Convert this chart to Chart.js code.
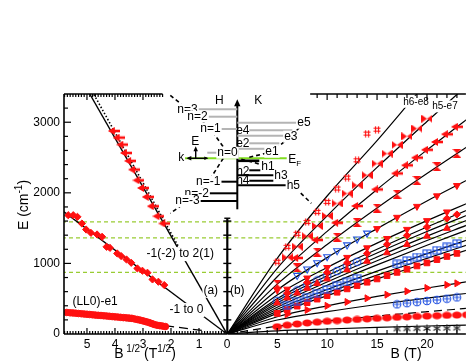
<!DOCTYPE html>
<html lang="en">
<head>
<meta charset="UTF-8" />
<title>Landau level transitions</title>
<style>
  body{margin:0;background:#fff}
  #wrap{position:relative;width:471px;height:364px;overflow:hidden;background:#fff}
  canvas{position:absolute}
  #cLeft{left:0;top:0}
  #cRight{left:222px;top:0}
  #cInset{left:160px;top:92px}
</style>
<script src="https://cdn.jsdelivr.net/npm/chart.js"></script>
</head>
<body>
<div id="wrap">
  <canvas id="cLeft" width="232" height="364"></canvas>
  <canvas id="cRight" width="249" height="364"></canvas>
  <canvas id="cInset" width="160" height="124"></canvas>
</div>
<script>
// ---------- data ----------
const yMax = 3400;
const yTicks = [0, 1000, 2000, 3000];
const leftXTicks = [0, 1, 2, 3, 4, 5];
const rightXTicks = [5, 10, 15, 20];
const greenLevels = [1588, 1362, 873];

// left panel, x = B^1/2 (T^1/2)
const upX = [4.04, 3.87, 3.74, 3.61, 3.46, 3.32, 3.16, 3.0, 2.83, 2.65, 2.45, 2.24];
const upE = [2876, 2782, 2683, 2565, 2452, 2329, 2178, 2069, 1942, 1810, 1669, 1566];
const midX = [5.67, 5.49, 5.34, 5.18, 5.03, 4.86, 4.64, 4.46, 4.30, 4.18, 3.92, 3.78, 3.59, 3.42, 3.20, 3.02, 2.84, 2.66, 2.45, 2.24];
const midE = [1683, 1683, 1660, 1565, 1480, 1433, 1410, 1377, 1235, 1220, 1141, 1104, 1056, 1009, 929, 896, 868, 773, 740, 693];
const lowX = [5.72, 5.6, 5.5, 5.4, 5.3, 5.2, 5.1, 5.0, 4.9, 4.8, 4.7, 4.6, 4.5, 4.4, 4.3, 4.2, 4.1, 4.0, 3.9, 3.8, 3.7, 3.6, 3.5, 3.4, 3.3, 3.2, 3.1, 3.0, 2.9, 2.8, 2.7, 2.6, 2.5, 2.4, 2.3, 2.2];
const lowE = [305, 300, 298, 295, 290, 287, 283, 280, 276, 272, 268, 265, 262, 258, 255, 251, 247, 243, 240, 236, 232, 229, 226, 222, 213, 205, 196, 186, 175, 164, 150, 135, 125, 118, 112, 105];
const fitUpX = [0, 4.9], fitUpE = [0, 3400];
const dotUpX = [1.69, 4.76], dotUpE = [1207, 3400];
const fitMidX = [0, 5.82], fitMidE = [0, 1730];
const dashLowX = [0.9, 5.82], dashLowE = [50, 310];

// right panel, x = B (T)
const fanB = [0, 5, 10, 15, 20, 24];
const fanLines = [
  [0, 1071, 1955, 2740, 3566, 4180],
  [0, 929, 1673, 2360, 3010, 3520],
  [0, 811, 1454, 2048, 2607, 3041],
  [0, 707, 1268, 1785, 2273, 2650],
  [0, 622, 1082, 1493, 1885, 2180],
  [0, 552, 942, 1287, 1606, 1850],
  [0, 500, 870, 1200, 1515, 1754],
  [0, 470, 826, 1148, 1452, 1683],
  [0, 440, 781, 1091, 1386, 1612],
  [0, 410, 736, 1037, 1324, 1542],
  [0, 380, 691, 980, 1258, 1471],
  [0, 350, 630, 891, 1138, 1330],
  [0, 320, 586, 835, 1072, 1259],
  [0, 292, 543, 780, 1007, 1188],
  [0, 245, 399, 532, 652, 740],
  [0, 198, 317, 418, 509, 575],
  [0, 45, 71, 93, 113, 127]
];
const fanDashE = [0, 110, 186, 254, 316, 363];

const hashB = [5, 6, 7, 8, 9, 10, 11, 12, 13, 14, 15];
const hashE = [1023, 1235, 1420, 1588, 1730, 1871, 2061, 2216, 2461, 2839, 2895];
const bowB = [6, 7, 8, 9, 10, 11, 12, 13, 14, 15, 16, 17, 18, 19, 20];
const bowE = [1085, 1237, 1385, 1530, 1673, 1849, 1990, 2107, 2249, 2414, 2556, 2680, 2800, 2910, 3050];
const ltriB = [7, 9, 11, 13, 15, 17, 18, 19, 20, 21, 22, 23];
const ltriE = [1077, 1332, 1576, 1814, 2048, 2275, 2390, 2498, 2610, 2720, 2830, 2936];
const hglB = [5, 7, 9, 11, 13, 15, 17, 19, 21, 23];
const hglE = [707, 939, 1161, 1374, 1582, 1785, 1983, 2177, 2371, 2559];
const dtriB = [5, 6, 8, 10, 12, 14, 15, 16, 17, 18, 19, 20, 21, 22, 23];
const dtriE = [622, 635, 793, 942, 1085, 1221, 1493, 1353, 1653, 1482, 1808, 1606, 1957, 1729, 2103];
const diaB = [6, 8, 10, 12, 14, 16, 18, 20, 22, 23];
const diaE = [579, 729, 870, 1007, 1141, 1270, 1396, 1515, 1636, 1693];
const utriB = [5, 6, 7, 8, 9, 10, 12, 14, 16, 18, 20, 22];
const utriE = [440, 512, 581, 649, 715, 781, 908, 1031, 1151, 1269, 1386, 1497];
const bTriB = [7, 8, 9, 10, 11, 12, 13, 14];
const bTriE = [830, 920, 1010, 1095, 1180, 1262, 1345, 1429];
const bDotB = [5, 6, 7, 8, 9, 10, 11, 12, 13];
const bDotE = [470, 545, 618, 689, 758, 826, 892, 957, 1022];
const bBoxB = [6, 7, 8, 9, 10, 11, 12, 13, 17, 18, 19, 20, 21, 22, 23];
const bBoxE = [409, 466, 522, 577, 630, 685, 737, 789, 992, 1041, 1090, 1138, 1187, 1234, 1281];
const sqB = [5, 6, 7, 8, 9, 10, 11, 12, 13, 14, 15, 16, 17, 18, 19, 20, 21, 22, 23];
const sqE = [292, 344, 395, 444, 494, 543, 591, 639, 686, 733, 780, 826, 873, 917, 964, 1007, 1054, 1098, 1142];
const rtriB = [6, 8, 10, 12, 14, 16, 18, 20, 22, 23];
const rtriE = [279, 341, 399, 454, 506, 557, 605, 652, 696, 718];
const bPlusB = [17, 18, 19, 20, 21, 22, 23];
const bPlusE = [420, 437, 452, 468, 483, 500, 518];
const ellB = [5, 6, 7, 8, 9, 10, 11, 12, 13, 14, 15, 16, 17, 18, 19, 20, 21, 22, 23, 24];
const ellE = [103, 125, 142, 156, 168, 180, 190, 198, 206, 214, 222, 229, 236, 242, 248, 254, 259, 264, 268, 272];
const starB = [17, 18, 19, 20, 21, 22, 23];
const starE = [72, 74, 76, 78, 80, 82, 84];

const leftNotes = [
  {t: '-1(-2) to 2(1)', x: 1.67, y: 1132, size: 12},
  {t: '-1 to 0', x: 1.45, y: 339, size: 12},
  {t: '(LL0)-e1', x: 4.71, y: 457, size: 12},
  {t: '(a)', x: 0.58, y: 612, size: 12}
];
const rightNotes = [
  {t: '(b)', x: 1.0, y: 608, size: 12},
  {t: 'h6-e8', x: 18.9, y: 3290, size: 10},
  {t: 'h5-e7', x: 21.8, y: 3225, size: 10}
];

// inset level scheme (x: 0 on the axis, y: 0 at E_F)
const nNames = ['n=3', 'n=2', 'n=1', 'n=0', 'n=-1', 'n=-2', 'n=-3'];
const nY = [49, 41.6, 29.3, 5.6, -23.4, -35, -42.7];
const nX0 = [-39, -29, -18, -30, -19, -29, -39];
const nX1 = [0, 0, 0, -20, 0, 0, 0];
const nLabX = [-49.8, -39.8, -26.8, -9.8, -29, -40.6, -49.8];
const eNames = ['e5', 'e4', 'e3', 'e2', 'e1'];
const eY = [35.6, 28, 22.5, 15, 9.5];
const eX0 = [0, 12, 0, 12, 0];
const eX1 = [59, 55, 47, 42, 28];
const eLabX = [66.7, 5.5, 53.5, 5.5, 34.7];
const eLabY = [35.6, 27.6, 21.6, 14.3, 6.6];
const hNames = ['h1', 'h2', 'h3', 'h4', 'h5'];
const hY = [-2.5, -12, -17, -22.4, -27];
const hX0 = [0, 12, 0, 12, 0];
const hX1 = [22, 38, 38, 52, 50];
const hLabX = [30.7, 5.5, 43.7, 5.5, 56];
const hLabY = [-8, -13.4, -17.7, -22.4, -27.7];
const dashUL = {x: [-67, -49.8, -39.8, -26.8, -9.8], y: [63, 49, 41.6, 29.3, 5.6]};
const dashLL = {x: [-14, -29, -40.6, -49.8, -67], y: [0, -23.4, -35, -42.7, -55]};
const dashUR = {x: [12, 34.7, 53.5, 66.7], y: [1, 6.6, 21.6, 35.6]};
const dashLR = {x: [4, 30.7, 43.7, 56, 74], y: [-1, -8, -17.7, -27.7, -45]};

// ---------- styling helpers ----------
const ink = '#000', red = '#ff1010', blue = '#2050e0', green = '#99cc33', gray = '#b4b4b4';
const FONT = '"Liberation Sans", Arial, Helvetica, sans-serif';
Chart.defaults.font.family = FONT;
Chart.defaults.font.size = 12;
Chart.defaults.color = ink;

function pts(xs, ys) { return xs.map((x, i) => ({x, y: ys[i]})); }
function curve(xs, ys, extra) {
  return Object.assign({data: pts(xs, ys), showLine: true, pointRadius: 0, borderColor: ink,
    borderWidth: 1.2, fill: false, order: 2}, extra);
}
function markers(xs, ys, style, extra) {
  return Object.assign({data: pts(xs, ys), showLine: false, pointStyle: style, pointRadius: 4,
    backgroundColor: red, borderColor: red, borderWidth: 1, order: 0}, extra);
}
function mk(w, h, draw) {
  const c = document.createElement('canvas'); c.width = w; c.height = h;
  draw(c.getContext('2d'), w, h); return c;
}
const mBow = mk(11, 8, (g, w, h) => { g.fillStyle = red; g.beginPath();
  g.moveTo(0, 0); g.lineTo(w / 2, h / 2); g.lineTo(0, h); g.closePath();
  g.moveTo(w, 0); g.lineTo(w / 2, h / 2); g.lineTo(w, h); g.closePath(); g.fill(); });
const mHgl = mk(9, 9, (g, w, h) => { g.fillStyle = red; g.beginPath();
  g.moveTo(0, 0); g.lineTo(w, 0); g.lineTo(w / 2, h / 2); g.closePath();
  g.moveTo(0, h); g.lineTo(w, h); g.lineTo(w / 2, h / 2); g.closePath(); g.fill(); });
const mArrowL = mk(12, 8, (g, w, h) => { g.fillStyle = red; g.beginPath();
  g.moveTo(0, h / 2); g.lineTo(7, 0); g.lineTo(7, h); g.closePath(); g.fill();
  g.fillRect(7, h / 2 - 1.3, w - 7, 2.6); });
const mHash = mk(8, 8, (g) => { g.strokeStyle = red; g.lineWidth = 1.2;
  [2.5, 5.5].forEach(p => { g.beginPath(); g.moveTo(p, 0.5); g.lineTo(p, 7.5);
    g.moveTo(0.5, p); g.lineTo(7.5, p); g.stroke(); }); });
const mOplus = mk(10, 10, (g) => { g.strokeStyle = blue; g.lineWidth = 1.1; g.beginPath();
  g.arc(5, 5, 3.8, 0, 2 * Math.PI); g.stroke(); g.beginPath();
  g.moveTo(5, 2); g.lineTo(5, 8); g.moveTo(2, 5); g.lineTo(8, 5); g.stroke(); });
const mBoxplus = mk(10, 9, (g) => { g.strokeStyle = blue; g.lineWidth = 1.1;
  g.strokeRect(1, 1, 8, 7); g.beginPath(); g.moveTo(5, 1); g.lineTo(5, 8);
  g.moveTo(1, 4.5); g.lineTo(9, 4.5); g.stroke(); });
const mOdot = mk(10, 10, (g) => { g.strokeStyle = blue; g.fillStyle = blue; g.lineWidth = 1.1;
  g.beginPath(); g.arc(5, 5, 3.8, 0, 2 * Math.PI); g.stroke();
  g.beginPath(); g.arc(5, 5, 1.2, 0, 2 * Math.PI); g.fill(); });
const mEll = mk(11, 8, (g) => { g.fillStyle = red; g.beginPath();
  g.ellipse(5.5, 4, 5, 3.5, 0, 0, 2 * Math.PI); g.fill(); });
const mAst = mk(9, 9, (g) => { g.strokeStyle = '#222'; g.lineWidth = 1.1; g.beginPath();
  g.moveTo(4.5, 0.5); g.lineTo(4.5, 8.5); g.moveTo(1, 2.5); g.lineTo(8, 6.5);
  g.moveTo(1, 6.5); g.lineTo(8, 2.5); g.stroke(); });

function seg(ctx, x1, y1, x2, y2) { ctx.beginPath(); ctx.moveTo(x1, y1); ctx.lineTo(x2, y2); ctx.stroke(); }
function rich(ctx, parts, x, y, center) {
  let w = 0;
  parts.forEach(p => { ctx.font = (p.sup ? 10 : 14) + 'px ' + FONT; w += ctx.measureText(p.t).width; });
  let cx = center ? x - w / 2 : x;
  parts.forEach(p => { ctx.font = (p.sup ? 10 : 14) + 'px ' + FONT;
    ctx.fillText(p.t, cx, p.sup ? y - 6 : y); cx += ctx.measureText(p.t).width; });
}
function drawNotes(chart, notes) {
  const {ctx, scales: {x, y}} = chart;
  ctx.save(); ctx.textAlign = 'center'; ctx.textBaseline = 'middle';
  notes.forEach(n => {
    ctx.font = n.size + 'px ' + FONT;
    const px = x.getPixelForValue(n.x), py = y.getPixelForValue(n.y);
    const w = ctx.measureText(n.t).width;
    ctx.fillStyle = '#fff'; ctx.fillRect(px - w / 2 - 1, py - n.size / 2 - 1, w + 2, n.size + 2);
    ctx.fillStyle = ink; ctx.fillText(n.t, px, py);
  });
  ctx.restore();
}
const fixTicks = arr => s => { s.ticks = arr.map(v => ({value: v})); };
const plain = v => String(v);

// ---------- left panel ----------
const leftTopEnd = 2.3;
const leftFrame = {
  id: 'leftFrame',
  afterDatasetsDraw(chart) { drawNotes(chart, leftNotes); },
  afterDraw(chart) {
    const {ctx, chartArea: a, scales: {x, y}} = chart;
    ctx.save(); ctx.strokeStyle = ink; ctx.lineWidth = 1.6;
    seg(ctx, a.left, a.top, a.left, a.bottom);
    seg(ctx, a.left, a.bottom, a.right, a.bottom);
    seg(ctx, a.left, a.top, x.getPixelForValue(leftTopEnd), a.top);
    ctx.lineWidth = 1.2;
    for (let v = 200; v < yMax; v += 200) {
      const py = y.getPixelForValue(v);
      seg(ctx, a.left, py, a.left + (v % 1000 ? 4 : 7), py);
    }
    for (let i = 1; i <= 58; i++) {
      const v = i / 10, px = x.getPixelForValue(v), L = i % 10 ? 3 : 6;
      seg(ctx, px, a.bottom, px, a.bottom - L);
      if (v >= leftTopEnd) seg(ctx, px, a.top, px, a.top + L);
    }
    ctx.fillStyle = ink; ctx.textBaseline = 'alphabetic';
    ctx.save(); ctx.translate(28, 205); ctx.rotate(-Math.PI / 2);
    rich(ctx, [{t: 'E (cm'}, {t: '-1', sup: true}, {t: ')'}], 0, 0, true);
    ctx.restore();
    rich(ctx, [{t: 'B'}, {t: ' 1/2', sup: true}, {t: ' (T'}, {t: '1/2', sup: true}, {t: ')'}], 145, 358, true);
    ctx.restore();
  }
};

const leftSets = [
  markers(upX, upE, mArrowL),
  markers(midX, midE, 'rectRot', {pointRadius: 3.6}),
  markers(lowX, lowE, 'circle', {pointRadius: 3.3}),
  curve(fitUpX, fitUpE, {borderWidth: 1.4}),
  curve(dotUpX, dotUpE, {borderDash: [1.5, 2], borderWidth: 1.6}),
  curve(fitMidX, fitMidE, {borderWidth: 1.3}),
  curve(dashLowX, dashLowE, {borderDash: [9, 5], borderWidth: 1.3}),
  ...greenLevels.map(g => curve([0, 5.82], [g, g], {borderColor: green, borderDash: [4, 3], borderWidth: 1.4, order: 3}))
];

new Chart(document.getElementById('cLeft'), {
  type: 'scatter',
  data: {datasets: leftSets},
  options: {
    responsive: false, animation: false,
    layout: {padding: {top: 94, right: 4.7, left: 0, bottom: 0}},
    plugins: {legend: {display: false}, tooltip: {enabled: false}},
    scales: {
      x: {type: 'linear', reverse: true, min: 0, max: 5.82,
        afterBuildTicks: fixTicks(leftXTicks), afterFit: s => { s.height = 30; },
        grid: {display: false, drawTicks: false}, border: {display: false},
        ticks: {padding: 3, font: {size: 12}, callback: plain}},
      y: {type: 'linear', min: 0, max: yMax,
        afterBuildTicks: fixTicks(yTicks), afterFit: s => { s.width = 64; },
        grid: {display: false, drawTicks: false}, border: {display: false},
        ticks: {padding: 4, font: {size: 12}, callback: plain}}
    }
  },
  plugins: [leftFrame]
});

// ---------- right panel ----------
const rightTopStart = 8.3;
const rightFrame = {
  id: 'rightFrame',
  afterDatasetsDraw(chart) { drawNotes(chart, rightNotes); },
  afterDraw(chart) {
    const {ctx, chartArea: a, scales: {x, y}} = chart;
    ctx.save(); ctx.strokeStyle = ink; ctx.lineWidth = 1.6;
    seg(ctx, a.left, a.bottom, a.right, a.bottom);
    seg(ctx, x.getPixelForValue(rightTopStart), a.top, a.right, a.top);
    ctx.lineWidth = 1.2;
    for (let v = 1; v <= 23; v++) {
      const px = x.getPixelForValue(v), L = v % 5 ? 4 : 6;
      seg(ctx, px, a.bottom, px, a.bottom - L);
      if (v >= rightTopStart) seg(ctx, px, a.top, px, a.top + L);
    }
    // central axis
    const top = y.getPixelForValue(1640);
    ctx.lineWidth = 2.2; seg(ctx, a.left, a.bottom, a.left, top);
    ctx.lineWidth = 1.4;
    for (let v = 200; v <= 1600; v += 200) {
      const py = y.getPixelForValue(v); seg(ctx, a.left - 4, py, a.left + 4, py);
    }
    seg(ctx, a.left - 3, top, a.left + 3, top);
    ctx.fillStyle = ink; ctx.textBaseline = 'alphabetic';
    rich(ctx, [{t: 'B (T)'}], 406 - 222, 358, true);
    ctx.restore();
  }
};

const rightSets = [
  markers(hashB, hashE, mHash),
  markers(bowB, bowE, mBow),
  markers(ltriB, ltriE, mArrowL),
  markers(hglB, hglE, mHgl),
  markers(dtriB, dtriE, 'triangle', {rotation: 180, pointRadius: 4}),
  markers(diaB, diaE, 'rectRot', {pointRadius: 3.6}),
  markers(utriB, utriE, 'triangle', {pointRadius: 4}),
  markers(bTriB, bTriE, 'triangle', {rotation: 180, pointRadius: 4, backgroundColor: 'rgba(0,0,0,0)', borderColor: blue, borderWidth: 1.1}),
  markers(bDotB, bDotE, mOdot),
  markers(bBoxB, bBoxE, mBoxplus),
  markers(sqB, sqE, 'rect', {pointRadius: 4}),
  markers(rtriB, rtriE, 'triangle', {rotation: 90, pointRadius: 4}),
  markers(bPlusB, bPlusE, mOplus),
  markers(ellB, ellE, mEll),
  markers(starB, starE, mAst),
  ...fanLines.map(l => curve(fanB, l, {tension: 0.35, cubicInterpolationMode: 'monotone'})),
  curve(fanB, fanDashE, {borderDash: [8, 5], tension: 0.35, cubicInterpolationMode: 'monotone'}),
  ...greenLevels.map(g => curve([0, 23.9], [g, g], {borderColor: green, borderDash: [4, 3], borderWidth: 1.4, order: 3}))
];

new Chart(document.getElementById('cRight'), {
  type: 'scatter',
  data: {datasets: rightSets},
  options: {
    responsive: false, animation: false,
    layout: {padding: {top: 94, right: 0, left: 5.3, bottom: 0}},
    plugins: {legend: {display: false}, tooltip: {enabled: false}},
    scales: {
      x: {type: 'linear', min: 0, max: 23.9,
        afterBuildTicks: fixTicks(rightXTicks), afterFit: s => { s.height = 30; },
        grid: {display: false, drawTicks: false}, border: {display: false},
        ticks: {padding: 3, font: {size: 12}, callback: plain}},
      y: {type: 'linear', min: 0, max: yMax, display: false}
    }
  },
  plugins: [rightFrame]
});

// ---------- inset: Landau level scheme ----------
const insetSets = [];
insetSets.push(curve([-52.3, 49.4], [0, 0], {borderColor: '#80dd20', borderWidth: 2, order: 4}));
nY.forEach((v, i) => insetSets.push(curve([nX0[i], nX1[i]], [v, v], {borderColor: i < 4 ? gray : ink, borderWidth: 2})));
eY.forEach((v, i) => insetSets.push(curve([eX0[i], eX1[i]], [v, v], {borderColor: gray, borderWidth: 2})));
hY.forEach((v, i) => insetSets.push(curve([hX0[i], hX1[i]], [v, v], {borderColor: ink, borderWidth: i === 0 ? 2.6 : 2})));
[dashUL, dashLL, dashUR, dashLR].forEach(d => insetSets.push(curve(d.x, d.y, {borderDash: [4, 3], borderWidth: 1.6, order: 3})));
insetSets.push(curve([0, 0], [-51, 54], {borderWidth: 2}));
insetSets.push(curve([-41.6, -41.6], [0, 8], {borderWidth: 1.4}));
insetSets.push(curve([-49, -30], [0, 0], {borderWidth: 1.4}));

const insetLabels = [];
nNames.forEach((t, i) => insetLabels.push({t, x: nLabX[i], y: nY[i], bg: true}));
eNames.forEach((t, i) => insetLabels.push({t, x: eLabX[i], y: eLabY[i], bg: i % 2 === 0}));
hNames.forEach((t, i) => insetLabels.push({t, x: hLabX[i], y: hLabY[i], bg: i % 2 === 0}));
insetLabels.push({t: 'H', x: -18, y: 57.6}, {t: 'K', x: 21, y: 58}, {t: 'E', x: -42, y: 16.6}, {t: 'k', x: -56, y: 0.5});

function head(ctx, x, y, dir, s) {
  ctx.beginPath();
  if (dir === 'up') { ctx.moveTo(x, y); ctx.lineTo(x - s * 0.45, y + s); ctx.lineTo(x + s * 0.45, y + s); }
  if (dir === 'left') { ctx.moveTo(x, y); ctx.lineTo(x + s, y - s * 0.45); ctx.lineTo(x + s, y + s * 0.45); }
  if (dir === 'right') { ctx.moveTo(x, y); ctx.lineTo(x - s, y - s * 0.45); ctx.lineTo(x - s, y + s * 0.45); }
  ctx.closePath(); ctx.fill();
}
const insetDraw = {
  id: 'insetDraw',
  afterDatasetsDraw(chart) {
    const {ctx, scales: {x, y}} = chart;
    ctx.save(); ctx.fillStyle = ink;
    head(ctx, x.getPixelForValue(0), y.getPixelForValue(59), 'up', 7);
    head(ctx, x.getPixelForValue(-41.6), y.getPixelForValue(12), 'up', 5);
    head(ctx, x.getPixelForValue(-51), y.getPixelForValue(0), 'left', 5);
    head(ctx, x.getPixelForValue(-29), y.getPixelForValue(0), 'right', 4);
    ctx.font = '12px ' + FONT; ctx.textAlign = 'center'; ctx.textBaseline = 'middle';
    insetLabels.forEach(l => {
      const px = x.getPixelForValue(l.x), py = y.getPixelForValue(l.y);
      const w = ctx.measureText(l.t).width;
      if (l.bg) { ctx.fillStyle = '#fff'; ctx.fillRect(px - w / 2 - 1, py - 6, w + 2, 12); }
      ctx.fillStyle = ink; ctx.fillText(l.t, px, py);
    });
    const fx = x.getPixelForValue(51), fy = y.getPixelForValue(-1);
    ctx.textAlign = 'left'; ctx.font = '12px ' + FONT; ctx.fillText('E', fx, fy);
    ctx.font = '8px ' + FONT; ctx.fillText('F', fx + 8, fy + 4);
    ctx.restore();
  }
};

new Chart(document.getElementById('cInset'), {
  type: 'scatter',
  data: {datasets: insetSets},
  options: {
    responsive: false, animation: false,
    layout: {padding: 0},
    plugins: {legend: {display: false}, tooltip: {enabled: false}},
    scales: {
      x: {type: 'linear', min: -77.3, max: 82.7, display: false},
      y: {type: 'linear', min: -57.7, max: 66.3, display: false}
    }
  },
  plugins: [insetDraw]
});
</script>
</body>
</html>
